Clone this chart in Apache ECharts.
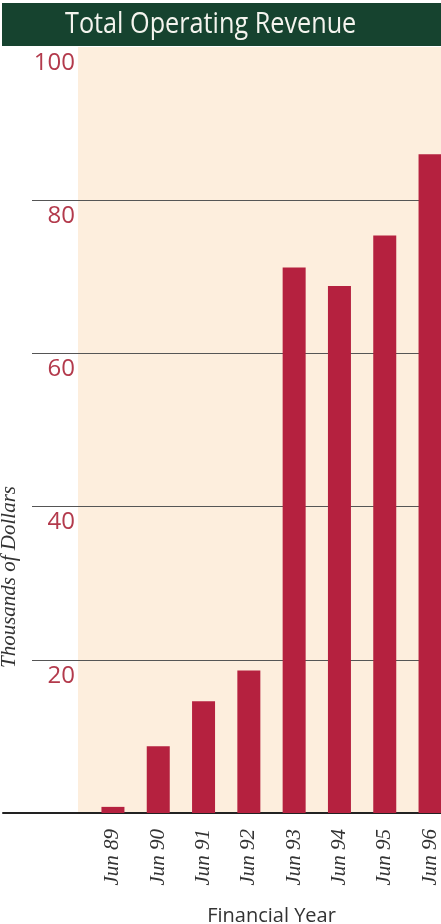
<!DOCTYPE html>
<html><head><meta charset="utf-8">
<script src="https://cdn.jsdelivr.net/npm/echarts@6/dist/echarts.min.js"></script>
<style>html,body{margin:0;padding:0;background:#fff}#c{width:441px;height:924px}</style>
</head><body><div id="c"></div>
<script>
const titleText = 'Total Operating Revenue';
const categories = ['Jun 89','Jun 90','Jun 91','Jun 92','Jun 93','Jun 94','Jun 95','Jun 96'];
const revenue = [0.8, 8.7, 14.6, 18.6, 71.2, 68.8, 75.4, 86.0];
const yMin = 0, yMax = 100, yStep = 20;
const yName = 'Thousands of Dollars';
const xName = 'Financial Year';

const gTop = 47, gBottom = 111;
const chart = echarts.init(document.getElementById('c'));
chart.setOption({
  backgroundColor: '#fff',
  animation: false,
  graphic: [
    {type:'rect', z:-10, shape:{x:78, y:gTop, width:441-78, height:924-gBottom-gTop}, style:{fill:'#fdeedd'}},
    {type:'rect', z:10, shape:{x:2, y:3, width:439, height:43}, style:{fill:'#16432f'}},
    {type:'text', z:11, x:65, y:10, scaleX:0.87, style:{text:titleText, fill:'#f4f4ee', font:'29px "Open Sans", sans-serif'}},
    {type:'text', z:11, x:-1, y:668, rotation:Math.PI/2, style:{text:yName, fill:'#333', font:'italic 21px "Liberation Serif", serif'}}
  ],
  grid: [
    {left:3, right:0, top:gTop, bottom:gBottom, outerBoundsMode:'none', containLabel:false},
    {left:32, right:0, top:gTop, bottom:gBottom, outerBoundsMode:'none', containLabel:false},
    {left:90.3, right:-11.7, top:gTop, bottom:gBottom, outerBoundsMode:'none', containLabel:false}
  ],
  xAxis: [
    {gridIndex:0, type:'value', min:0, max:1, axisLine:{show:true, onZero:false, lineStyle:{color:'#222', width:2}}, axisTick:{show:false}, axisLabel:{show:false}, splitLine:{show:false}},
    {gridIndex:1, type:'value', min:0, max:1, show:false},
    {gridIndex:2, type:'category', data:categories, axisLine:{show:false}, axisTick:{show:false},
     axisLabel:{rotate:90, margin:16, color:'#333', fontFamily:'"Liberation Serif", serif', fontStyle:'italic', fontSize:21},
     name:xName, nameLocation:'middle', nameGap:93, nameTextStyle:{color:'#333', fontSize:20, fontFamily:'"Open Sans", sans-serif'}}
  ],
  yAxis: [
    {gridIndex:0, type:'value', min:yMin, max:yMax, show:false},
    {gridIndex:1, type:'value', min:yMin, max:yMax, interval:yStep,
     axisLine:{show:false}, axisTick:{show:false},
     splitLine:{show:true, showMinLine:false, showMaxLine:false, lineStyle:{color:'#555', width:1}},
     axisLabel:{inside:true, showMinLabel:false, align:'right', margin:43, verticalAlign:'top', padding:[4,0,0,0], color:'#b33a4c', fontSize:24, fontFamily:'"Open Sans", sans-serif'}},
    {gridIndex:2, type:'value', min:yMin, max:yMax, show:false}
  ],
  series: [
    {type:'bar', xAxisIndex:2, yAxisIndex:2, data:revenue, barWidth:23, itemStyle:{color:'#b5213f'}}
  ]
});
</script></body></html>
